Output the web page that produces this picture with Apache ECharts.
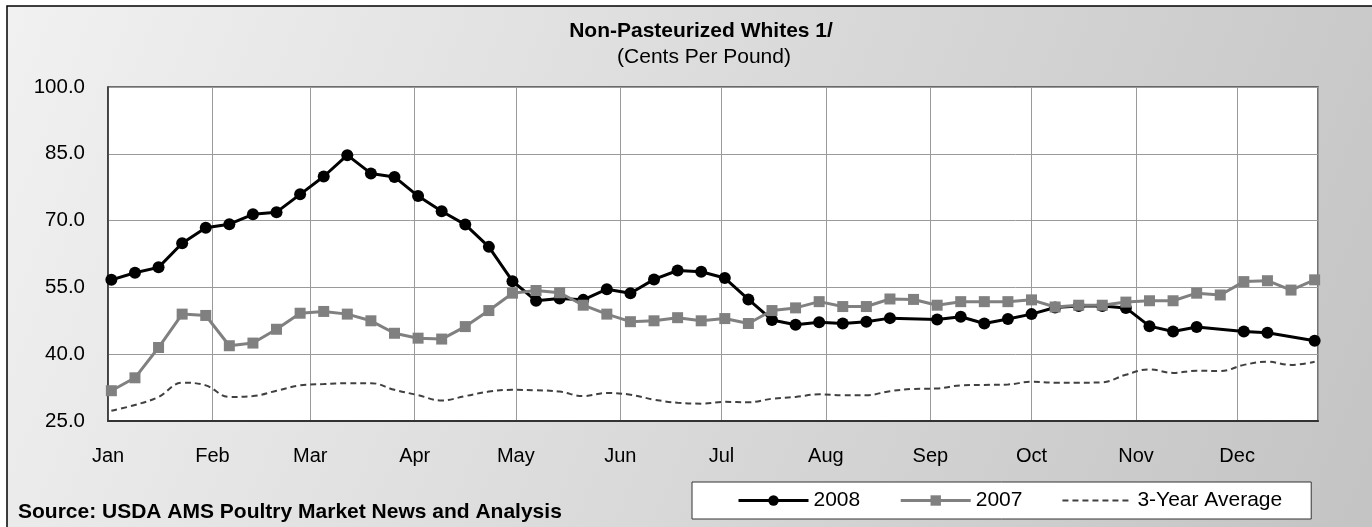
<!DOCTYPE html>
<html>
<head>
<meta charset="utf-8">
<script src="https://cdn.jsdelivr.net/npm/echarts@6/dist/echarts.min.js"></script>
<style>
  html, body { margin: 0; padding: 0; background: #ffffff; }
  #chart { width: 1372px; height: 527px; }
</style>
</head>
<body>
<div id="chart"></div>
<script>
// ---- data (weekly, starting first week of January) ----
const monthLabels = ['Jan','Feb','Mar','Apr','May','Jun','Jul','Aug','Sep','Oct','Nov','Dec'];
const yTicks = [25, 40, 55, 70, 85, 100];

const series2008 = [
  56.7, 58.3, 59.5, 64.9, 68.4, 69.2, 71.4, 71.9, 75.9, 79.9,
  84.7, 80.6, 79.8, 75.5, 72.1, 69.1, 64.1, 56.4, 52.0, 52.5,
  52.2, 54.6, 53.7, 56.8, 58.8, 58.5, 57.1, 52.3, 47.7, 46.6,
  47.2, 46.9, 47.3, 48.1, null, 47.8, 48.4, 46.9, 47.9, 49.0,
  50.5, 50.8, 50.8, 50.4, 46.3, 45.1, 46.1, null, 45.1, 44.8,
  null, 43.0
];
const series2007 = [
  31.8, 34.7, 41.5, 49.0, 48.7, 41.9, 42.5, 45.6, 49.2, 49.6,
  49.0, 47.5, 44.7, 43.6, 43.4, 46.2, 49.8, 53.7, 54.3, 53.8,
  51.0, 49.0, 47.3, 47.5, 48.2, 47.5, 48.0, 46.9, 49.8, 50.4,
  51.8, 50.7, 50.7, 52.4, 52.3, 51.0, 51.8, 51.8, 51.8, 52.2,
  50.6, 51.0, 51.0, 51.7, 52.0, 52.0, 53.7, 53.3, 56.3, 56.5,
  54.4, 56.7
];
const series3yr = [
  27.3, 28.6, 30.4, 33.6, 33.0, 30.4, 30.6, 31.8, 33.0, 33.3,
  33.5, 33.5, 32.0, 30.8, 29.6, 30.6, 31.6, 32.0, 31.9, 31.6,
  30.6, 31.3, 30.9, 29.8, 29.1, 28.9, 29.3, 29.2, 30.0, 30.4,
  31.0, 30.8, 30.8, 31.7, 32.2, 32.3, 33.0, 33.1, 33.2, 33.8,
  33.6, 33.6, 33.7, 35.4, 36.6, 35.8, 36.3, 36.2, 37.6, 38.3,
  37.6, 38.3
];

// weekly dates (x positions come from the time axis)
const weekDates = series2008.map((_, k) => new Date(2008, 0, 2 + 7 * k).getTime());
const axisMin = new Date(2008, 0, 1).getTime();
const axisMax = new Date(2008, 11, 25).getTime();

const pair = arr => arr.map((v, k) => [weekDates[k], v]);

const FONT = "'Liberation Sans', Arial, sans-serif";
const DAY = 86400000;

const chart = echarts.init(document.getElementById('chart'), null, { renderer: 'canvas' });

chart.setOption({
  animation: false,
  backgroundColor: '#ffffff',
  graphic: {
    elements: [
      {
        type: 'rect', z: -100, silent: true,
        shape: { x: 7, y: 6, width: 1400, height: 560 },
        style: {
          fill: new echarts.graphic.LinearGradient(0, 0, 1, 1, [
            { offset: 0, color: '#f1f1f1' },
            { offset: 1, color: '#c2c2c2' }
          ]),
          stroke: '#000000', lineWidth: 1.5
        }
      },
      {
        type: 'text', z: 10,
        style: { text: 'Non-Pasteurized Whites 1/', font: "bold 21px " + FONT, fill: '#000', textAlign: 'center', textVerticalAlign: 'middle' },
        position: [701, 31]
      },
      {
        type: 'text', z: 10,
        style: { text: '(Cents Per Pound)', font: "21px " + FONT, fill: '#000', textAlign: 'center', textVerticalAlign: 'middle' },
        position: [704, 57]
      },
      {
        type: 'text', z: 10,
        style: { text: 'Source: USDA AMS Poultry Market News and Analysis', font: "bold 21px " + FONT, fill: '#000', textAlign: 'left', textVerticalAlign: 'middle' },
        position: [18, 512]
      }
    ]
  },
  legend: {
    data: [
      { name: '2008', lineStyle: { width: 3 } },
      { name: '2007', lineStyle: { width: 3 } },
      { name: '3-Year Average', lineStyle: { width: 2 }, itemStyle: { opacity: 0 } }
    ],
    left: 692, top: 482,
    orient: 'horizontal',
    padding: [8, 29, 8, 45],
    itemWidth: 70, itemHeight: 13, itemGap: 39,
    backgroundColor: '#ffffff',
    borderColor: '#333333', borderWidth: 1,
    textStyle: { fontFamily: FONT, fontSize: 21, color: '#000' }
  },
  grid: {
    left: 108, top: 87, right: 54, bottom: 106,
    show: true, backgroundColor: '#ffffff',
    borderColor: '#444444', borderWidth: 1.5,
    containLabel: false
  },
  xAxis: {
    type: 'time',
    min: axisMin, max: axisMax,
    splitNumber: 12,
    minInterval: 28 * DAY, maxInterval: 31 * DAY,
    axisLine: { show: true, onZero: false, lineStyle: { color: '#333', width: 2 } },
    axisTick: { show: false },
    splitLine: { show: true, lineStyle: { color: '#9a9a9a', width: 1 } },
    axisLabel: {
      fontFamily: FONT, fontSize: 20, color: '#000', margin: 25,
      showMinLabel: true, showMaxLabel: false,
      hideOverlap: false,
      formatter: v => monthLabels[new Date(v).getMonth()]
    }
  },
  yAxis: {
    type: 'value',
    min: yTicks[0], max: yTicks[yTicks.length - 1], interval: 15,
    axisLine: { show: true, lineStyle: { color: '#333', width: 1.5 } },
    axisTick: { show: false },
    splitLine: { show: true, lineStyle: { color: '#9a9a9a', width: 1 } },
    axisLabel: {
      fontFamily: FONT, fontSize: 20.5, color: '#000', margin: 23,
      formatter: v => v.toFixed(1)
    }
  },
  series: [
    {
      name: '3-Year Average', type: 'line', z: 1,
      data: pair(series3yr),
      smooth: 0.4, symbol: 'none',
      lineStyle: { color: '#404040', width: 2, type: [6, 4] },
      itemStyle: { color: '#404040' }
    },
    {
      name: '2008', type: 'line', z: 2,
      data: pair(series2008), connectNulls: true,
      symbol: 'circle', symbolSize: 12,
      lineStyle: { color: '#000000', width: 3 },
      itemStyle: { color: '#000000' }
    },
    {
      name: '2007', type: 'line', z: 3,
      data: pair(series2007), connectNulls: true,
      symbol: 'rect', symbolSize: 11,
      lineStyle: { color: '#808080', width: 3 },
      itemStyle: { color: '#808080' }
    }
  ]
});
</script>
</body>
</html>
